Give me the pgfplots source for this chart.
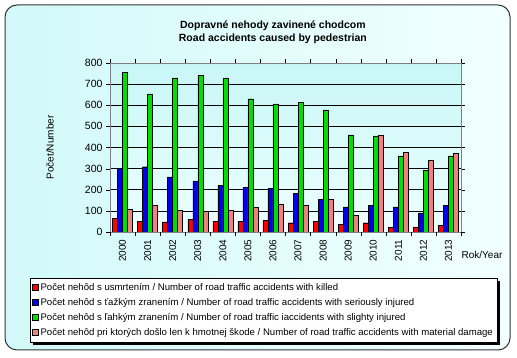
\documentclass[border=0pt]{standalone}
\usepackage{pgfplots}
\pgfplotsset{compat=1.18}
\usepackage{fontspec}
\setmainfont{Liberation Sans}
\definecolor{cred}{HTML}{FF0000}
\definecolor{cblue}{HTML}{0000F0}
\definecolor{cgreen}{HTML}{00DD00}
\definecolor{cpink}{HTML}{F28080}
\definecolor{bgA}{HTML}{D2F9F9}
\definecolor{bgB}{HTML}{F2FFFF}
\definecolor{paA}{HTML}{C8F6F6}
\definecolor{paB}{HTML}{EEFFFF}
\pgfdeclarelayer{bottom}
\pgfdeclarelayer{shadowl}
\pgfsetlayers{bottom,shadowl,main}
\pgfplotstableread{
x killed serious slight damage
0 63 301 757 110
1 51 309 654 127
2 48 261 730 103
3 59 242 740 98
4 50 222 729 103
5 52 211 631 119
6 55 206 607 132
7 44 182 613 127
8 51 154 578 155
9 36 119 460 79
10 44 127 455 457
11 21 119 360 376
12 24 90 293 338
13 32 127 360 371
}\datatable
\pgfplotsset{sq/.style={legend image code/.code={\draw[draw=black,fill=#1,line width=0.4pt] (0pt,-3pt) rectangle (6pt,3pt);}}}
\begin{document}
\begin{tikzpicture}[x=1pt,y=1pt]
\begin{pgfonlayer}{bottom}
\path[use as bounding box] (0,0) rectangle (517,358);
\shade[left color=bgA, right color=bgB, rounded corners=12pt] (5,8) rectangle (510,353);
\draw[black!80, line width=1pt, rounded corners=12pt] (5,8) rectangle (510,353);
\end{pgfonlayer}
\begin{axis}[
  at={(110pt,126pt)}, anchor=south west,
  scale only axis, width=351pt, height=169pt,
  ybar=0pt, bar width=5pt,
  xmin=-0.5, xmax=13.5, ymin=0, ymax=800,
  enlarge x limits=false,
  axis background/.style={shade, top color=paA, bottom color=paB},
  axis line style={gray},
  ytick={0,100,...,800},
  ymajorgrids, grid style={black, line width=0.6pt},
  tick align=outside, major tick length=4pt,
  ytick style={black},
  xtick={0,...,13},
  xticklabels={2000,2001,2002,2003,2004,2005,2006,2007,2008,2009,2010,2011,2012,2013},
  xtick style={draw=none},
  extra x ticks={-0.5,0.5,1.5,...,13.5},
  extra x tick labels={},
  extra x tick style={xtick style={draw=black}, grid=none},
  xticklabel style={rotate=90, anchor=east, font=\fontsize{10}{12}\selectfont},
  yticklabel style={font=\fontsize{10.5}{12}\selectfont},
  /pgf/number format/assume math mode=true,
  ylabel={Počet/Number},
  ylabel style={at={(axis description cs:-0.171,0.5)}, anchor=center, font=\fontsize{10}{12}\selectfont},
  xlabel={Rok/Year},
  xlabel style={at={(axis description cs:1.06,-0.136)}, anchor=center, font=\fontsize{10}{12}\selectfont},
  title={Dopravné nehody zavinené chodcom\\Road accidents caused by pedestrian},
  title style={at={(axis description cs:0.464,1.145)}, anchor=center, align=center, font=\bfseries\fontsize{10.5}{13}\selectfont},
  legend style={at={(axis description cs:-0.228,-0.272)}, anchor=north west,
    draw=black, fill=white, font=\fontsize{9.6}{10}\selectfont, row sep=2.5pt,
    inner xsep=2pt, inner ysep=3pt, name=leg},
  legend cell align=left,
]
\addplot[fill=cred, draw=black, line width=0.4pt, sq=cred] table[x=x,y=killed] {\datatable};
\addplot[fill=cblue, draw=black, line width=0.4pt, sq=cblue] table[x=x,y=serious] {\datatable};
\addplot[fill=cgreen, draw=black, line width=0.4pt, sq=cgreen] table[x=x,y=slight] {\datatable};
\addplot[fill=cpink, draw=black, line width=0.4pt, sq=cpink] table[x=x,y=damage] {\datatable};
\legend{Počet nehôd s usmrtením / Number of road traffic accidents with killed,
Počet nehôd s ťažkým zranením / Number of road traffic accidents with seriously injured,
Počet nehôd s ľahkým zranením / Number of road traffic iaccidents with slighty injured,
Počet nehôd pri ktorých došlo len k hmotnej škode / Number of road traffic accidents with material damage}
\end{axis}
\begin{pgfonlayer}{shadowl}
\fill[black] ([shift={(3pt,-3pt)}]leg.south west) rectangle ([shift={(3pt,-3pt)}]leg.north east);
\end{pgfonlayer}
\end{tikzpicture}
\end{document}
